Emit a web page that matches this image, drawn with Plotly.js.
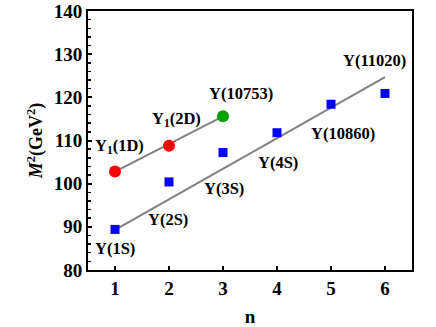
<!DOCTYPE html>
<html>
<head>
<meta charset="utf-8">
<script src="https://cdn.plot.ly/plotly-3.0.1.min.js"></script>
<style>
  html, body { margin: 0; padding: 0; background: #fff; }
  #chart { width: 436px; height: 327px; }
</style>
</head>
<body>
<div id="chart"></div>
<script>
// Upsilon D-wave states (red), Υ(10753) (green), S-wave states (blue)
var dX = [1, 2];
var dY = [102.8, 108.8];
var gX = [3];
var gY = [115.6];
var sX = [1, 2, 3, 4, 5, 6];
var sY = [89.4, 100.4, 107.2, 111.8, 118.4, 120.9];

// fitted lines
var fitUpX = [1, 3];
var fitUpY = [102.8, 115.6];
var fitLoX = [1, 6];
var fitLoY = [89.3, 124.7];

// labels
var labText = ['Υ<sub>1</sub>(1D)', 'Υ<sub>1</sub>(2D)', 'Υ(10753)', 'Υ(11020)',
               'Υ(10860)', 'Υ(4S)', 'Υ(3S)', 'Υ(2S)', 'Υ(1S)'];
var labX = [1.09, 2.13, 3.33, 5.8, 5.22, 4.02, 3.02, 1.98, 1.0];
var labY = [108.7, 115.0, 120.8, 128.6, 111.7, 104.8, 98.8, 91.8, 84.9];

var serif = 'Liberation Serif, Times New Roman, serif';

var data = [
  {x: fitUpX, y: fitUpY, mode: 'lines', line: {color: '#808080', width: 2}, hoverinfo: 'none'},
  {x: fitLoX, y: fitLoY, mode: 'lines', line: {color: '#808080', width: 2}, hoverinfo: 'none'},
  {x: dX, y: dY, mode: 'markers', marker: {color: '#ff0000', size: 12, symbol: 'circle'}},
  {x: gX, y: gY, mode: 'markers', marker: {color: '#00a000', size: 12, symbol: 'circle'}},
  {x: sX, y: sY, mode: 'markers', marker: {color: '#0000ff', size: 9, symbol: 'square'}}
];

var annotations = labText.map(function (t, i) {
  return {
    x: labX[i], y: labY[i], xref: 'x', yref: 'y', text: '<b>' + t + '</b>',
    showarrow: false, font: {family: serif, size: 16.5, color: '#000'}
  };
});

var layout = {
  width: 436,
  height: 327,
  showlegend: false,
  margin: {l: 88, r: 24, t: 11, b: 57},
  paper_bgcolor: '#fff',
  plot_bgcolor: '#fff',
  font: {family: serif, color: '#000'},
  xaxis: {
    range: [0.5, 6.5],
    tickvals: [1, 2, 3, 4, 5, 6],
    ticktext: ['<b>1</b>', '<b>2</b>', '<b>3</b>', '<b>4</b>', '<b>5</b>', '<b>6</b>'],
    ticks: 'inside', ticklen: 4, tickwidth: 2, tickcolor: '#000',
    showline: true, linewidth: 2, linecolor: '#000', mirror: true,
    showgrid: false, zeroline: false,
    tickfont: {family: serif, size: 19},
    title: {text: '<b>n</b>', font: {family: serif, size: 19}, standoff: 13}
  },
  yaxis: {
    range: [80, 140],
    tickvals: [80, 90, 100, 110, 120, 130, 140],
    ticktext: ['<b>80</b>', '<b>90</b>', '<b>100</b>', '<b>110</b>', '<b>120</b>', '<b>130</b>', '<b>140</b>'],
    ticks: 'inside', ticklen: 4, tickwidth: 2, tickcolor: '#000',
    minor: {dtick: 2, ticks: 'inside', ticklen: 3, tickwidth: 1.5, tickcolor: '#000'},
    showline: true, linewidth: 2, linecolor: '#000', mirror: true,
    showgrid: false, zeroline: false,
    tickfont: {family: serif, size: 19},
    title: {text: '<b><i>M</i><sup>2</sup>(GeV<sup>2</sup>)</b>', font: {family: serif, size: 18}, standoff: 6}
  },
  annotations: annotations
};

Plotly.newPlot('chart', data, layout, {staticPlot: true});
</script>
</body>
</html>
